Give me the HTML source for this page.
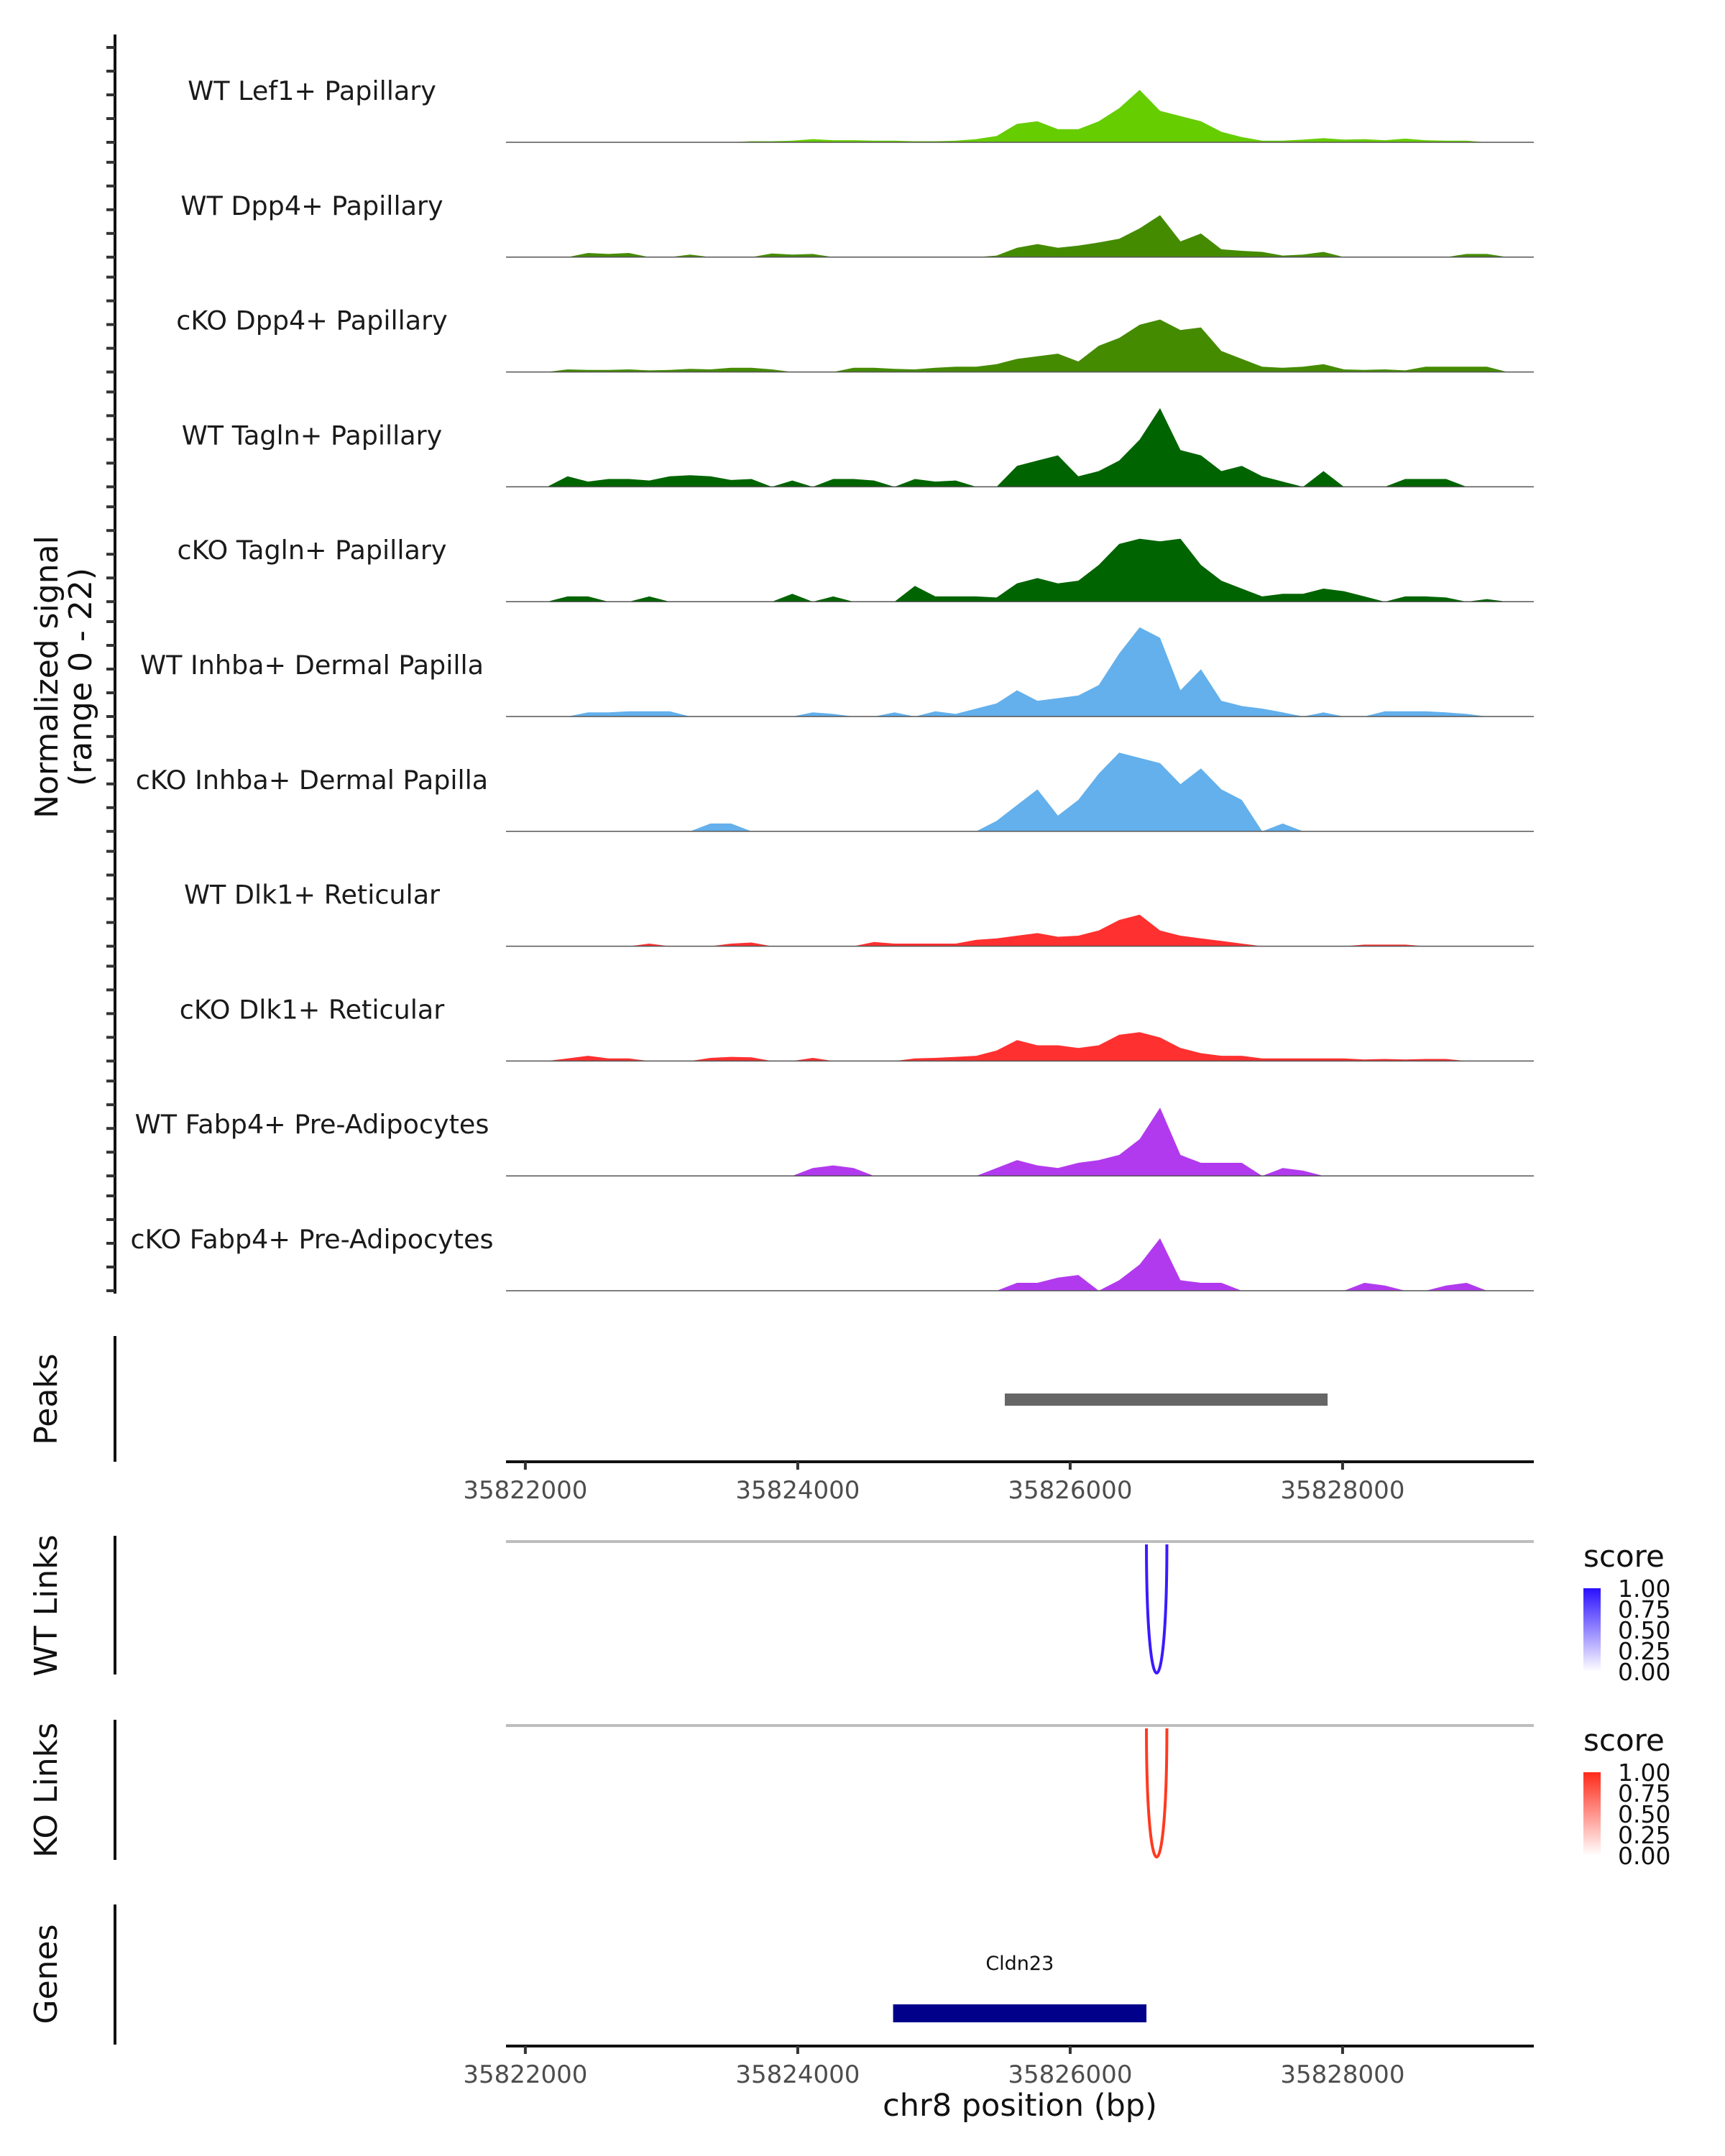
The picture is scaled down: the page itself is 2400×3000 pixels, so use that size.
<!DOCTYPE html>
<html><head><meta charset="utf-8"><style>
html,body{margin:0;padding:0;background:#fff;}
svg{display:block;font-family:"DejaVu Sans","Liberation Sans",sans-serif;}
</style></head><body>
<svg id="chart" width="2400" height="3000" viewBox="0 0 2400 3000" xmlns="http://www.w3.org/2000/svg">
<defs>
<linearGradient id="gBlue" x1="0" y1="1" x2="0" y2="0"><stop offset="0" stop-color="#ffffff"/><stop offset="1" stop-color="#2a10ff"/></linearGradient>
<linearGradient id="gRed" x1="0" y1="1" x2="0" y2="0"><stop offset="0" stop-color="#ffffff"/><stop offset="1" stop-color="#ff2a1a"/></linearGradient>
</defs>
<g id="tracks"></g>
<g id="others"></g>
</svg>
<script>
const NS = "http://www.w3.org/2000/svg";
const trackNames = ["WT Lef1+ Papillary","WT Dpp4+ Papillary","cKO Dpp4+ Papillary","WT Tagln+ Papillary","cKO Tagln+ Papillary","WT Inhba+ Dermal Papilla","cKO Inhba+ Dermal Papilla","WT Dlk1+ Reticular","cKO Dlk1+ Reticular","WT Fabp4+ Pre-Adipocytes","cKO Fabp4+ Pre-Adipocytes"];
const trackColors = ["#66CD00","#458B00","#458B00","#006400","#006400","#63B0EC","#63B0EC","#FF3030","#FF3030","#B23AEE","#B23AEE"];
const binStart = 35821860;
const binSize = 150;
const sigLef1WT = [0,0,0,0,0,0,0,0,0,0,0,0,0.2,0.2,0.3,0.6,0.4,0.4,0.3,0.3,0.2,0.2,0.3,0.6,1.2,3.5,4,2.5,2.5,4,6.5,10,6,5,4,2,1,0.3,0.3,0.5,0.8,0.5,0.6,0.4,0.7,0.4,0.3,0.3,0,0];
const sigDpp4WT = [0,0,0,0,0.8,0.6,0.8,0,0,0.5,0,0,0,0.7,0.5,0.6,0,0,0,0,0,0,0,0,0.3,1.8,2.5,1.8,2.2,2.8,3.5,5.5,8,3,4.5,1.5,1.2,1,0.3,0.5,1,0,0,0,0,0,0,0.6,0.6,0];
const sigDpp4KO = [0,0,0,0.5,0.4,0.4,0.5,0.3,0.4,0.6,0.5,0.8,0.8,0.5,0,0,0,0.8,0.8,0.6,0.5,0.8,1,1,1.5,2.5,3,3.5,2,5,6.5,9,10,8,8.5,4,2.5,1,0.8,1,1.5,0.5,0.4,0.5,0.3,1,1,1,1,0];
const sigTaglnWT = [0,0,0,2,1,1.5,1.5,1.2,2,2.2,2,1.3,1.5,0,1.2,0,1.5,1.5,1.2,0,1.5,1,1.2,0,0,4,5,6,2,3,5,9,15,7,6,3,4,2,1,0,3,0,0,0,1.5,1.5,1.5,0,0,0];
const sigTaglnKO = [0,0,0,1,1,0,0,1,0,0,0,0,0,0,1.5,0,1,0,0,0,3,1,1,1,0.8,3.5,4.5,3.5,4,7,11,12,11.5,12,7,4,2.5,1,1.5,1.5,2.5,2,1,0,1,1,0.8,0,0.5,0];
const sigInhbaWT = [0,0,0,0,0.8,0.8,1,1,1,0,0,0,0,0,0,0.8,0.5,0,0,0.8,0,1,0.5,1.5,2.5,5,3,3.5,4,6,12,17,15,5,9,3,2,1.5,0.8,0,0.8,0,0,1,1,1,0.8,0.5,0,0];
const sigInhbaKO = [0,0,0,0,0,0,0,0,0,0,1.5,1.5,0,0,0,0,0,0,0,0,0,0,0,0,2,5,8,3,6,11,15,14,13,9,12,8,6,0,1.5,0,0,0,0,0,0,0,0,0,0,0];
const sigDlk1WT = [0,0,0,0,0,0,0,0.5,0,0,0,0.5,0.7,0,0,0,0,0,0.8,0.5,0.5,0.5,0.5,1.2,1.5,2,2.5,1.8,2,3,5,6,3,2,1.5,1,0.5,0,0,0,0,0,0.3,0.3,0.3,0,0,0,0,0];
const sigDlk1KO = [0,0,0,0.5,1,0.5,0.5,0,0,0,0.6,0.8,0.7,0,0,0.6,0,0,0,0,0.5,0.6,0.8,1,2,4,3,3,2.5,3,5,5.5,4.5,2.5,1.5,1,1,0.5,0.5,0.5,0.5,0.5,0.3,0.4,0.3,0.4,0.4,0,0,0];
const sigFabp4WT = [0,0,0,0,0,0,0,0,0,0,0,0,0,0,0,1.5,2,1.5,0,0,0,0,0,0,1.5,3,2,1.5,2.5,3,4,7,13,4,2.5,2.5,2.5,0,1.5,1,0,0,0,0,0,0,0,0,0,0];
const sigFabp4KO = [0,0,0,0,0,0,0,0,0,0,0,0,0,0,0,0,0,0,0,0,0,0,0,0,0,1.5,1.5,2.5,3,0,2,5,10,2,1.5,1.5,0,0,0,0,0,0,1.5,1,0,0,1,1.5,0,0];
const signals = [sigLef1WT,sigDpp4WT,sigDpp4KO,sigTaglnWT,sigTaglnKO,sigInhbaWT,sigInhbaKO,sigDlk1WT,sigDlk1KO,sigFabp4WT,sigFabp4KO];
const xTicks = [35822000,35824000,35826000,35828000];
const peakRange = [35825520,35827890];
const wtLink = [35826560,35826710];
const koLink = [35826560,35826710];
const geneRange = [35824700,35826560];
const legendTicks = ["1.00","0.75","0.50","0.25","0.00"];

const X0 = 35821858, X1 = 35829404, PX0 = 704, PX1 = 2134;
function xs(bp){ return PX0 + (bp - X0) / (X1 - X0) * (PX1 - PX0); }
const yUnit = 7.3;
const base0 = 198, trackStep = 159.8;
function ys(k, v){ return base0 + k * trackStep - v * yUnit; }

function mk(tag, attrs, parent){ const e = document.createElementNS(NS, tag); for (const k in attrs) e.setAttribute(k, attrs[k]); parent.appendChild(e); return e; }
const T = document.getElementById('tracks');
const O = document.getElementById('others');

let ax = mk('line',{x1:160,y1:48,x2:160,y2:1800,stroke:'#111','stroke-width':4},T);
 
signals.forEach((arr,k)=>{
  const b = base0 + k*trackStep;
  for(let t=0;t<5;t++){
    const tk = mk('line',{x1:148,x2:160,y1:b - t*5*6.6,y2:b - t*5*6.6,stroke:'#333','stroke-width':4},T);
     
  }
  let d = 'M' + xs(binStart) + ',' + b;
  arr.forEach((v,i)=>{ const c = binStart + i*binSize; d += ' L' + xs(c).toFixed(1) + ',' + ys(k,v).toFixed(1); });
  d += ' L' + xs(binStart + arr.length*binSize) + ',' + b + ' Z';
  const p = mk('path',{d:d,fill:trackColors[k]},T);
   
  const bl = mk('line',{x1:PX0,x2:PX1,y1:b,y2:b,stroke:'#555','stroke-width':1.5},T);
   
  const lb = mk('text',{x:434,y:b-59,'font-size':36.5,'text-anchor':'middle',fill:'#1a1a1a'},T);
  lb.textContent = trackNames[k];
   
});
let yt = mk('text',{x:0,y:0,'font-size':44,'text-anchor':'middle',fill:'#111',transform:'translate(80,942) rotate(-90)'},T);
 
const ts1 = mk('tspan',{x:0,dy:0},yt); ts1.textContent='Normalized signal';
const ts2 = mk('tspan',{x:0,dy:47},yt); ts2.textContent='(range 0 - 22)';

function panelLabel(txt,y,y1,y2,name){
  const l = mk('line',{x1:160,x2:160,y1:y1,y2:y2,stroke:'#111','stroke-width':4},O);
   
  const t = mk('text',{x:0,y:0,'font-size':44,'text-anchor':'middle',fill:'#111',transform:'translate(79,'+y+') rotate(-90)'},O);
  t.textContent = txt;
   
}
panelLabel('Peaks',1947,1859,2034,'peaks');
panelLabel('WT Links',2234,2137,2330,'wt-links');
panelLabel('KO Links',2491,2393,2588,'ko-links');
panelLabel('Genes',2747,2650,2845,'genes');

let pk = mk('rect',{x:xs(peakRange[0]),y:1939,width:xs(peakRange[1])-xs(peakRange[0]),height:17,fill:'#666'},O);
 

function xAxis(y,name){
  const l = mk('line',{x1:PX0,x2:PX1,y1:y,y2:y,stroke:'#111','stroke-width':4},O);
   
  xTicks.forEach(v=>{
    const t = mk('line',{x1:xs(v),x2:xs(v),y1:y,y2:y+11,stroke:'#333','stroke-width':4},O);
     
    const tx = mk('text',{x:xs(v),y:y+51,'font-size':34,'text-anchor':'middle',fill:'#4d4d4d'},O);
    tx.textContent = v;
     
  });
}
xAxis(2034,'x-axis-top');
xAxis(2847,'x-axis-bottom');

function link(range,y0,depth,color,name){
  const g = mk('line',{x1:PX0,x2:PX1,y1:y0,y2:y0,stroke:'#bebebe','stroke-width':4},O);
   
  const a = xs(range[0]), b = xs(range[1]);
  const yb = y0 + depth*4/3;
  const p = mk('path',{d:'M'+a+','+(y0+4)+' C'+a+','+yb+' '+b+','+yb+' '+b+','+(y0+4),fill:'none',stroke:color,'stroke-width':4},O);
   
}
link(wtLink,2145,182,'#3a1aff','wt-link');
link(koLink,2401,182,'#ff3a20','ko-link');

function legend(y0,grad,name){
  const t = mk('text',{x:2203,y:y0,'font-size':42,fill:'#111'},O);
  t.textContent = 'score';
   
  const r = mk('rect',{x:2203,y:y0+30,width:24,height:116,fill:'url(#'+grad+')'},O);
   
  legendTicks.forEach((s,i)=>{
    const ty = y0+30 + i*29;
    const tx = mk('text',{x:2251,y:ty+12,'font-size':33,fill:'#111'},O);
    tx.textContent = s;
     
  });
}
legend(2180,'gBlue','wt-legend');
legend(2436,'gRed','ko-legend');

const gn = mk('text',{x:(xs(geneRange[0])+xs(geneRange[1]))/2,y:2741,'font-size':27,'text-anchor':'middle',fill:'#111'},O);
gn.textContent = 'Cldn23';
 
const gb = mk('rect',{x:xs(geneRange[0]),y:2789,width:xs(geneRange[1])-xs(geneRange[0]),height:25,fill:'#00008B'},O);
 

const xl = mk('text',{x:1419,y:2944,'font-size':43,'text-anchor':'middle',fill:'#111'},O);
xl.textContent = 'chr8 position (bp)';
 
</script>
</body></html>
